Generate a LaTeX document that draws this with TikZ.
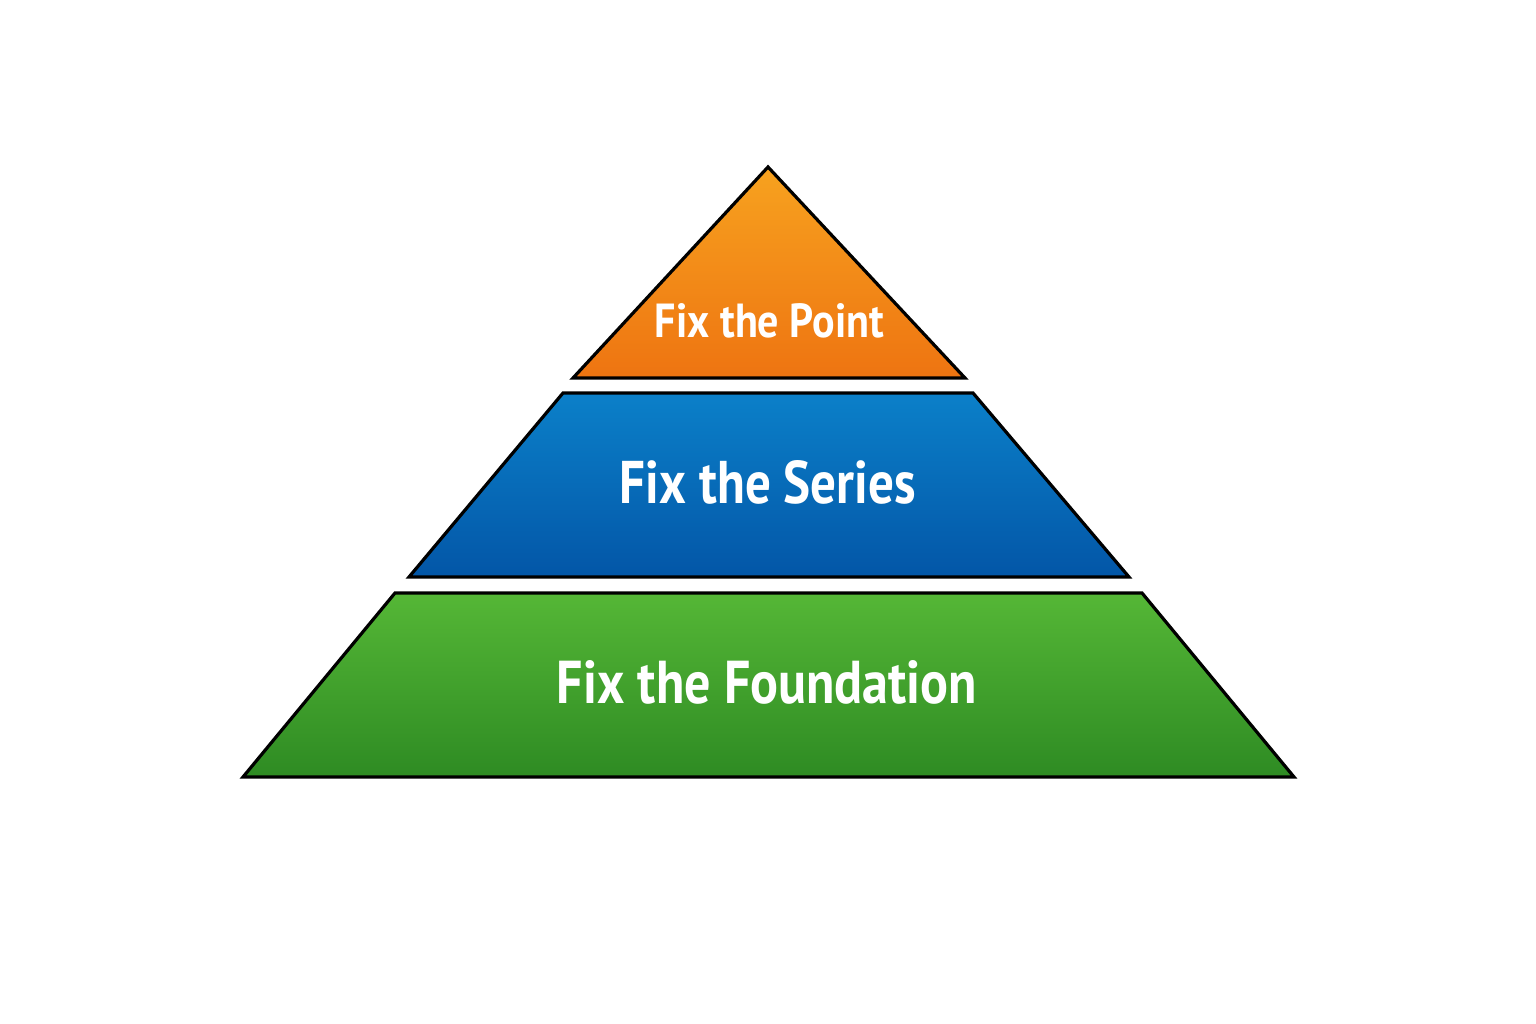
\documentclass[tikz,border=0pt]{standalone}
\usepackage{fontspec}
\setmainfont{PT Sans}
\usepackage{graphicx}
\definecolor{orTop}{HTML}{F7A21F}
\definecolor{orBot}{HTML}{EE7411}
\definecolor{blTop}{HTML}{0B80C9}
\definecolor{blBot}{HTML}{0356A7}
\definecolor{grTop}{HTML}{55B736}
\definecolor{grBot}{HTML}{2E8B23}
\tikzset{
  layer/.style={draw=black, line width=3.2pt, line join=miter},
  lbl/.style={text=white, inner sep=0pt, font=\bfseries}
}
\begin{document}
\begin{tikzpicture}[x=1pt,y=-1pt]
\useasboundingbox (0,0) rectangle (1536,1024);
\fill[white] (0,0) rectangle (1536,1024);
% top
\draw[layer, top color=orTop, bottom color=orBot] (768,167) -- (965,378) -- (573,378) -- cycle;
% middle
\draw[layer, top color=blTop, bottom color=blBot] (563,393) -- (973,393) -- (1129,577) -- (409,577) -- cycle;
% bottom
\draw[layer, top color=grTop, bottom color=grBot] (395,593) -- (1142,593) -- (1294,777) -- (243,777) -- cycle;
\node[lbl, anchor=south] (point) at (769.5,338) {\resizebox{229pt}{34pt}{Fix the Point}};
\node[lbl, anchor=south] (series) at (768,505) {\resizebox{296pt}{43pt}{Fix the Series}};
\node[lbl, anchor=south] (found) at (767,705) {\resizebox{420pt}{43pt}{Fix the Foundation}};
\end{tikzpicture}
\end{document}
